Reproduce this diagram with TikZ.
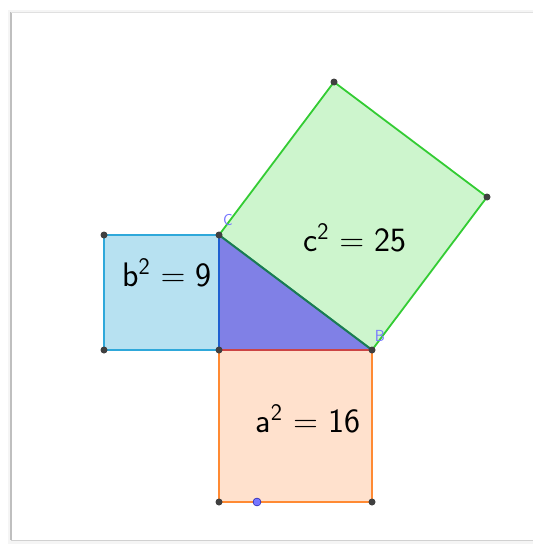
\RequirePackage{fix-cm}
\documentclass[tikz,border=0pt]{standalone}
\usepackage{fontspec}
\definecolor{bfill}{HTML}{B7E1F1}
\definecolor{bdraw}{HTML}{2FA8DA}
\definecolor{afill}{HTML}{FFE1CD}
\definecolor{adraw}{HTML}{FF8A33}
\definecolor{cfill}{HTML}{CDF5CD}
\definecolor{cdraw}{HTML}{33CC33}
\definecolor{tfill}{HTML}{8080E6}
\definecolor{tb}{HTML}{1F5FD0}
\definecolor{ta}{HTML}{CC4444}
\definecolor{tc}{HTML}{1A7A55}
\definecolor{vl}{HTML}{7777FF}
\begin{document}
\begin{tikzpicture}[x=1pt,y=-1pt,
  pt/.style={circle,fill=black!75,inner sep=0pt,minimum size=7pt},
  lbl/.style={font=\fontsize{34}{40}\sffamily},
  vlab/.style={font=\fontsize{16}{18}\sffamily,text=vl}]
\useasboundingbox (0,0) rectangle (533,546);
\fill[black!4] (8,10) rectangle (533,544);
\fill[white] (12,13) rectangle (533,540);
\draw[black!25,line width=1.2pt] (11,12) -- (11,540);
\draw[black!12] (11,12) -- (533,12);
\draw[black!18] (11,540) -- (533,540);
% points
\coordinate (C) at (219,235);
\coordinate (B) at (372,350);
\coordinate (R) at (219,350);
\coordinate (P1) at (104,235);
\coordinate (P2) at (104,350);
\coordinate (Q1) at (219,502);
\coordinate (Q2) at (372,502);
\coordinate (S1) at (334,82);
\coordinate (S2) at (487,197);
\coordinate (D) at (257,502);
% squares
\filldraw[fill=bfill,draw=bdraw,line width=1.8pt] (C) -- (P1) -- (P2) -- (R) -- cycle;
\filldraw[fill=afill,draw=adraw,line width=1.8pt] (R) -- (B) -- (Q2) -- (Q1) -- cycle;
\filldraw[fill=cfill,draw=cdraw,line width=1.8pt] (C) -- (B) -- (S2) -- (S1) -- cycle;
% triangle
\fill[tfill] (C) -- (R) -- (B) -- cycle;
\draw[tb,line width=2pt] (C) -- (R);
\draw[ta,line width=2pt] (R) -- (B);
\draw[tc,line width=2pt] (C) -- (B);
% points
\foreach \p in {C,B,R,P1,P2,Q1,Q2,S1,S2} \node[pt] (n\p) at (\p) {};
\node[circle,fill=vl,draw=blue!60!black,inner sep=0pt,minimum size=8pt] (nD) at (D) {};
\node[vlab] (lC) at (228,220) {C};
\node[vlab] (lB) at (380,336) {B};
% labels
\node[lbl] (tb) at (167,273) {b\textsuperscript{2} $=$ 9};
\node[lbl] (tc) at (355,238) {c\textsuperscript{2} $=$ 25};
\node[lbl] (ta) at (308,419) {a\textsuperscript{2} $=$ 16};
\end{tikzpicture}
\end{document}
